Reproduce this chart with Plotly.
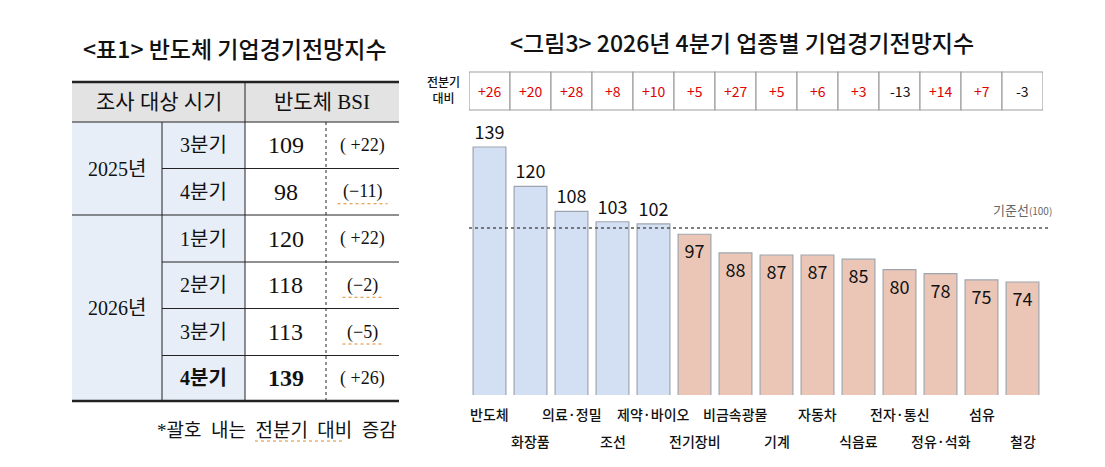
import plotly.graph_objects as go

# ---------------- data ----------------
industries = ["반도체", "화장품", "의료·정밀", "조선", "제약·바이오", "전기장비", "비금속광물",
              "기계", "자동차", "식음료", "전자·통신", "정유·석화", "섬유", "철강"]
bsi_values = [139, 120, 108, 103, 102, 97, 88, 87, 87, 85, 80, 78, 75, 74]
qoq_change = [26, 20, 28, 8, 10, 5, 27, 5, 6, 3, -13, 14, 7, -3]
baseline = 100

table_years = ["2025년", "2026년"]
table_quarters = ["3분기", "4분기", "1분기", "2분기", "3분기", "4분기"]
table_bsi = [109, 98, 120, 118, 113, 139]
table_change = [22, -11, 22, -2, -5, 26]

# ---------------- helpers (pixel -> paper) ----------------
OFF = 8  # page body margin
W, H = 1105 - OFF, 467 - OFF
def px(x):
    return (x - OFF) / W
def py(y):
    return 1 - (y - OFF) / H

SANS = "Noto Sans CJK KR, Noto Sans, sans-serif"
SERIF = "Liberation Serif, Noto Sans CJK KR, serif"

BLUE = "#d3dff3"
ORANGE = "#ebc6b6"
EDGE = "#9ea5b0"

fig = go.Figure()

# ---------------- bar chart ----------------
fig.add_trace(go.Bar(
    x=industries,
    y=bsi_values,
    width=0.8,
    marker=dict(color=[BLUE if v >= baseline else ORANGE for v in bsi_values],
                line=dict(color=EDGE, width=1.2)),
    text=[str(v) for v in bsi_values],
    textposition=["outside" if v >= baseline else "inside" for v in bsi_values],
    insidetextanchor="end",
    constraintext="none",
    textfont=dict(family=SANS, size=18, color="#111111"),
    outsidetextfont=dict(family=SANS, size=18, color="#111111"),
    insidetextfont=dict(family=SANS, size=18, color="#111111"),
    cliponaxis=False,
    hoverinfo="skip",
))

shapes = []
annotations = []

# reference line
shapes.append(dict(type="line", xref="paper", yref="y", x0=px(469), x1=px(1049),
                   y0=baseline, y1=baseline, line=dict(color="#555555", width=1.5, dash="dot")))
annotations.append(dict(xref="paper", yref="paper", x=px(1054), y=py(210), xanchor="right",
                        yanchor="middle", showarrow=False,
                        text="기준선<span style='font-size:10px'>(%d)</span>" % baseline,
                        font=dict(family=SANS, size=13, color="#666666")))

# category labels in two staggered rows
for i, name in enumerate(industries):
    yy = py(414) if i % 2 == 0 else py(441)
    annotations.append(dict(xref="x", yref="paper", x=name, y=yy, showarrow=False,
                            xanchor="center", yanchor="middle", text=name,
                            font=dict(family=SANS, size=14, color="#111111", weight=500)))

# change-vs-previous-quarter boxes
for i, d in enumerate(qoq_change):
    shapes.append(dict(type="rect", xref="x", yref="paper", x0=i - 0.5, x1=i + 0.5,
                       y0=py(110), y1=py(72), line=dict(color="#a0a0a0", width=1.2),
                       fillcolor="white", layer="below"))
    annotations.append(dict(xref="x", yref="paper", x=industries[i], y=py(91), showarrow=False,
                            xanchor="center", yanchor="middle", text="%+d" % d,
                            font=dict(family=SANS, size=14,
                                      color="#e00000" if d > 0 else "#111111")))
annotations.append(dict(xref="paper", yref="paper", x=px(443), y=py(90), showarrow=False,
                        xanchor="center", yanchor="middle", text="전분기<br>대비",
                        font=dict(family=SANS, size=12, color="#111111", weight=500)))

# right title
annotations.append(dict(xref="paper", yref="paper", x=px(742), y=py(42), showarrow=False,
                        xanchor="center", yanchor="middle",
                        text="&lt;그림3&gt; 2026년 4분기 업종별 기업경기전망지수",
                        font=dict(family=SANS, size=23, color="#111111", weight=500)))

# ---------------- left table ----------------
annotations.append(dict(xref="paper", yref="paper", x=px(235), y=py(48), showarrow=False,
                        xanchor="center", yanchor="middle",
                        text="&lt;표1&gt; 반도체 기업경기전망지수",
                        font=dict(family=SANS, size=23, color="#111111", weight=500)))

L, C1, C2, C3, R = 72, 162, 245, 326, 399
rows = [122, 168.5, 215, 262, 308.5, 355.5, 401]
TOP = 82

def rect(x0, y0, x1, y1, color):
    shapes.append(dict(type="rect", xref="paper", yref="paper", x0=px(x0), x1=px(x1),
                       y0=py(y1), y1=py(y0), fillcolor=color, line=dict(width=0), layer="below"))

def hline(x0, x1, y, width=1, color="#222222", dash="solid"):
    shapes.append(dict(type="line", xref="paper", yref="paper", x0=px(x0), x1=px(x1),
                       y0=py(y), y1=py(y), line=dict(color=color, width=width, dash=dash)))

def vline(x, y0, y1, width=1, color="#222222", dash="solid"):
    shapes.append(dict(type="line", xref="paper", yref="paper", x0=px(x), x1=px(x),
                       y0=py(y0), y1=py(y1), line=dict(color=color, width=width, dash=dash)))

rect(L, TOP, R, rows[0], "#e3e3e3")
rect(L, rows[0], C2, rows[-1], "#e7eef8")

hline(L, R, TOP, width=2.5)
hline(L, R, rows[0], width=1)
hline(L, R, rows[2], width=1)
for r in (rows[1], rows[3], rows[4], rows[5]):
    hline(C1, R, r, width=1)
hline(L, R, rows[-1], width=2.5)
vline(C1, rows[0], rows[-1])
vline(C2, TOP, rows[-1])
vline(C3, rows[0], rows[-1], width=1, dash="dot")

def txt(x, y, s, size, family=SERIF, anchor="center", color="#111111"):
    annotations.append(dict(xref="paper", yref="paper", x=px(x), y=py(y), showarrow=False,
                            xanchor=anchor, yanchor="middle", text=s,
                            font=dict(family=family, size=size, color=color)))

txt((L + C2) / 2, 102, "조사 대상 시기", 21)
txt((C2 + R) / 2, 102, "반도체 BSI", 21)
txt((L + C1) / 2, (rows[0] + rows[2]) / 2, table_years[0], 20)
txt((L + C1) / 2, (rows[2] + rows[-1]) / 2, table_years[1], 20)

for i in range(len(table_quarters)):
    yc = (rows[i] + rows[i + 1]) / 2
    bold = i == len(table_quarters) - 1
    q = table_quarters[i]
    v = str(table_bsi[i])
    if bold:
        q = "<b>%s</b>" % q
        v = "<b>%s</b>" % v
    txt((C1 + C2) / 2, yc, q, 20)
    txt((C2 + C3) / 2, yc, v, 24)
    ch = table_change[i]
    label = "( +%d)" % ch if ch > 0 else "(−%d)" % abs(ch)
    txt((C3 + R) / 2, yc, label, 18)
    if ch < 0:
        w = 50 if abs(ch) >= 10 else 40
        hline((C3 + R) / 2 - w / 2, (C3 + R) / 2 + w / 2, yc + 12, width=1,
              color="#e08a2a", dash="dot")

txt(R, 430, "*괄호&nbsp; 내는&nbsp; 전분기&nbsp; 대비&nbsp; 증감", 19, anchor="right")
hline(255, 342, 441, width=1, color="#e08a2a", dash="dot")

# ---------------- layout ----------------
fig.update_layout(
    width=W, height=H,
    margin=dict(l=0, r=0, t=0, b=0),
    paper_bgcolor="white", plot_bgcolor="rgba(0,0,0,0)",
    showlegend=False,
    bargap=0.2,
    xaxis=dict(domain=[px(469), px(1043)], range=[-0.5, len(industries) - 0.5],
               showticklabels=False, showgrid=False, zeroline=False, showline=False,
               fixedrange=True),
    yaxis=dict(domain=[py(395), py(120)], range=[19.6, 152], showticklabels=False,
               showgrid=False, zeroline=False, showline=False, fixedrange=True),
    shapes=shapes,
    annotations=annotations,
)

fig.write_html("out.html", config={"displayModeBar": False})
